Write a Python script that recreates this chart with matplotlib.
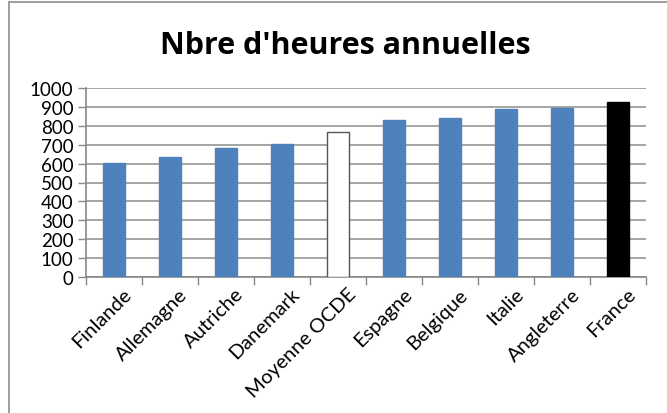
import matplotlib
matplotlib.use("Agg")
import matplotlib.pyplot as plt
import matplotlib.transforms as mtransforms
from matplotlib.patches import Rectangle

# données
pays = ["Finlande", "Allemagne", "Autriche", "Danemark", "Moyenne OCDE",
        "Espagne", "Belgique", "Italie", "Angleterre", "France"]
heures = [602, 636, 685, 703, 767, 832, 841, 890, 897, 929]
y_ticks = list(range(0, 1001, 100))

couleurs = ["#4F81BD"] * len(pays)
couleurs[4] = "white"
couleurs[9] = "black"
bords = ["#4F81BD"] * len(pays)
bords[4] = "#555555"
bords[9] = "black"

fig = plt.figure(figsize=(6.67, 4.14), dpi=100)
ax = fig.add_axes([86 / 667, 1 - 277.7 / 414, 560 / 667, 188.4 / 414])

x = list(range(len(pays)))
ax.bar(x, heures, width=0.41, color=couleurs, edgecolor=bords, linewidth=1, zorder=3)

ax.set_xlim(-0.5, len(pays) - 0.5)
ax.set_ylim(0, 1000)
ax.set_yticks(y_ticks)
ax.set_yticklabels([str(v) for v in y_ticks], fontsize=13.5, family="Lato")
ax.yaxis.grid(True, color="#969696", linewidth=1.2, zorder=0)

# graduations x entre les catégories
ax.set_xticks([i - 0.5 for i in range(len(pays) + 1)])
ax.set_xticklabels([])
ax.tick_params(axis="x", length=6, color="#888888", width=1)
ax.tick_params(axis="y", length=6, color="#888888", width=1, pad=3)
ax.set_xticks(x, minor=True)
ax.set_xticklabels(pays, minor=True, rotation=45, ha="right",
                   rotation_mode="anchor", fontsize=14.5, family="Lato")
ax.tick_params(axis="x", which="minor", length=0, pad=6)
decal = mtransforms.ScaledTranslation(9 / 100, 0, fig.dpi_scale_trans)
for lab in ax.get_xticklabels(minor=True):
    lab.set_transform(lab.get_transform() + decal)

for s in ["top", "right"]:
    ax.spines[s].set_visible(False)
for s in ["left", "bottom"]:
    ax.spines[s].set_color("#888888")
    ax.spines[s].set_linewidth(1.2)

fig.text(0.517, 1 - 46 / 414, "Nbre d'heures annuelles", ha="center", va="center",
         fontsize=22, fontweight="bold", family="Open Sans")

# cadre du graphique
fig.patches.append(Rectangle((9 / 667, -0.5), 2, 0.5 + (414 - 3) / 414,
                             transform=fig.transFigure, fill=False,
                             edgecolor="#8c8c8c", linewidth=1.2))

fig.savefig("out.png", dpi=100)
